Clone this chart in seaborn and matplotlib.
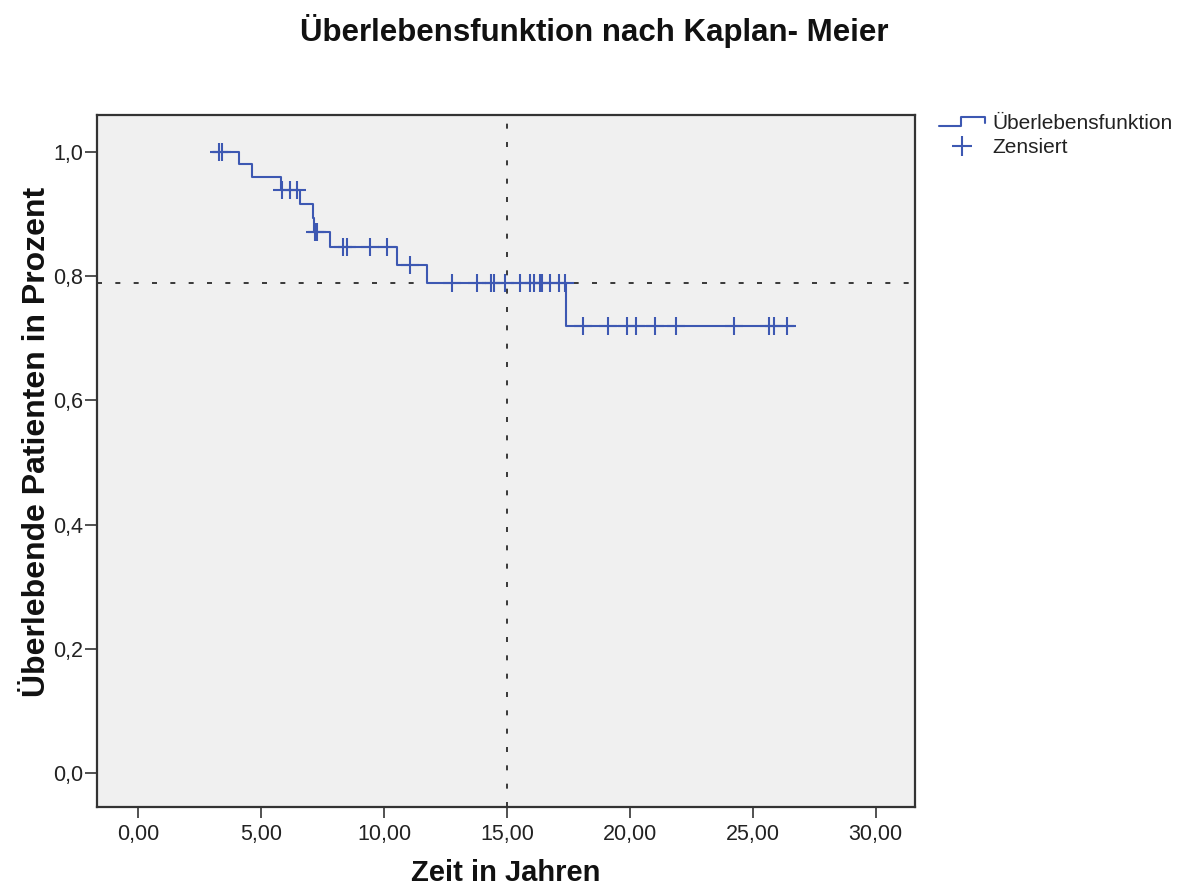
import numpy as np
import pandas as pd
import matplotlib
matplotlib.use("Agg")
import matplotlib.pyplot as plt
import seaborn as sns
from matplotlib.legend_handler import HandlerBase
from matplotlib.lines import Line2D
from matplotlib.ticker import FuncFormatter, FixedLocator

# Kaplan-Meier estimate: follow-up window, event times and survival after each event
start_time = 3.0
end_time = 26.67
event_times = [4.11, 4.63, 5.82, 6.57, 7.10, 7.14, 7.81, 10.53, 11.75, 17.42]
survival = [0.981, 0.960, 0.939, 0.916, 0.894, 0.872, 0.848, 0.819, 0.790, 0.720]

# censored observations (years)
censor_times = [3.27, 3.43, 5.85, 6.16, 6.48, 7.18, 7.26, 8.32, 8.49, 9.44, 10.12,
                11.07, 12.77, 13.78, 14.37, 14.46, 14.94, 15.55, 15.95, 16.09,
                16.36, 16.43, 16.77, 17.11, 17.38, 18.08, 19.10, 19.89, 20.26,
                21.01, 21.88, 24.23, 25.68, 25.88, 26.40]

# reference lines: 15-year survival
ref_time = 15.0
ref_survival = 0.79

x_ticks = [0, 5, 10, 15, 20, 25, 30]
y_ticks = [0.0, 0.2, 0.4, 0.6, 0.8, 1.0]

title = "Überlebensfunktion nach Kaplan- Meier"
x_label = "Zeit in Jahren"
y_label = "Überlebende Patienten in Prozent"
legend_labels = ["Überlebensfunktion", "Zensiert"]

sns.set_theme(style="white")
plt.rcParams["font.family"] = ["Liberation Sans", "DejaVu Sans"]

curve_color = "#3d58b2"

# step curve and censor positions
curve = pd.DataFrame({
    "t": [start_time] + event_times + [end_time],
    "s": [1.0] + survival + [survival[-1]],
})
ev = np.asarray(event_times)
lev = np.asarray([1.0] + survival)
censor_idx = np.searchsorted(ev, np.asarray(censor_times), side="right")
censors = pd.DataFrame({"t": censor_times, "s": lev[censor_idx]})

fig = plt.figure(figsize=(11.88, 8.88), dpi=100)
ax = fig.add_axes([0.0817, 0.0912, 0.6885, 0.7793])
ax.set_facecolor("#f0f0f0")

ax.axvline(ref_time, color="#1a1a1a", lw=1.2, linestyle=(0, (3, 8)), zorder=1)
ax.axhline(ref_survival, color="#1a1a1a", lw=1.2, linestyle=(0, (3, 8)), zorder=1)

sns.lineplot(data=curve, x="t", y="s", drawstyle="steps-post", estimator=None,
             sort=False, color=curve_color, lw=1.5, ax=ax, zorder=3)
sns.scatterplot(data=censors, x="t", y="s", marker="+", s=160, color=curve_color,
                linewidth=1.5, ax=ax, zorder=4)

ax.set_xlim(-1.67, 31.6)
ax.set_ylim(-0.055, 1.06)
ax.xaxis.set_major_locator(FixedLocator(x_ticks))
ax.yaxis.set_major_locator(FixedLocator(y_ticks))
ax.xaxis.set_major_formatter(FuncFormatter(lambda v, p: f"{v:.2f}".replace(".", ",")))
ax.yaxis.set_major_formatter(FuncFormatter(lambda v, p: f"{v:.1f}".replace(".", ",")))
ax.tick_params(axis="both", which="major", direction="out", width=1.2,
               colors="#333333", labelsize=15.5, labelcolor="#222222")
ax.tick_params(axis="x", length=8, pad=4)
ax.tick_params(axis="y", length=8.5, pad=1.5)
ax.tick_params(left=True, bottom=True)
for sp in ax.spines.values():
    sp.set_color("#333333")
    sp.set_linewidth(1.6)

ax.set_xlabel(x_label, fontsize=21, fontweight="bold", color="#111111", labelpad=10)
ax.set_ylabel(y_label, fontsize=23, fontweight="bold", color="#111111", labelpad=1,
              y=0.527)
fig.suptitle(title, x=0.5, y=0.984, fontsize=22.5, fontweight="bold", color="#111111")


class StepHandler(HandlerBase):
    def create_artists(self, legend, orig_handle, xdescent, ydescent, width, height,
                       fontsize, trans):
        x0, x1 = -xdescent, -xdescent + width
        y0, y1 = -ydescent + 0.2 * height, -ydescent + 0.8 * height
        xm = x0 + 0.48 * width
        line = Line2D([x0, xm, xm, x1, x1], [y0, y0, y1, y1, y0 + 0.2 * height],
                      color=curve_color, lw=1.5, transform=trans)
        return [line]


step_handle = Line2D([], [], color=curve_color, lw=1.5)
cens_handle = Line2D([], [], color=curve_color, marker="+", linestyle="none",
                     markersize=15, markeredgewidth=1.5)
fig.legend([step_handle, cens_handle], legend_labels,
           handler_map={step_handle: StepHandler()},
           loc="upper left", bbox_to_anchor=(0.775, 0.893), frameon=False,
           fontsize=15, handlelength=2.2, handletextpad=0.35, labelspacing=0.25,
           labelcolor="#222222")

fig.savefig("out.png", dpi=100, facecolor="white")
